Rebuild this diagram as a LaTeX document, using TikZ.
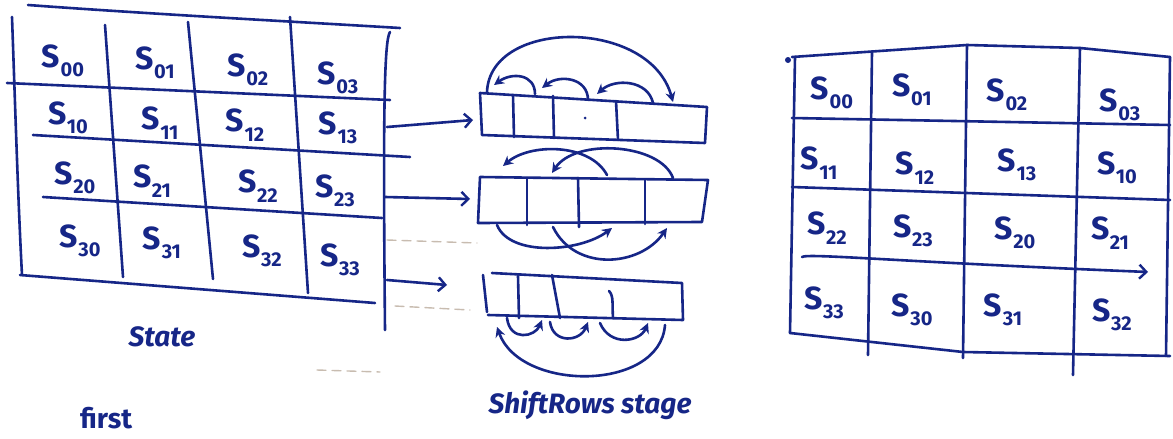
\documentclass[tikz,border=0pt]{standalone}
\usepackage{fontspec}
\setmainfont{Fira Sans}
\usetikzlibrary{arrows.meta}
\definecolor{ink}{RGB}{22,38,135}
\definecolor{ghost}{RGB}{200,188,176}
% state entry: large S with a lowered two-digit index
\newcommand\sij[1]{S\kern0.5pt\raisebox{-0.3em}{\fontsize{20}{20}\selectfont #1}}

\begin{document}
\begin{tikzpicture}[x=1pt,y=-1pt, line cap=round, line join=round,
  pen/.style={draw=ink, line width=2.6pt},
  lbl/.style={text=ink, font=\bfseries\fontsize{32}{32}\selectfont, inner sep=0pt},
  tip/.style={-{Stealth[length=10pt,width=10pt]}},
  barb/.style={-{Straight Barb[length=7pt,width=14pt,line width=2.4pt]}},
  faint/.style={draw=ghost, line width=1.4pt, dash pattern=on 9pt off 6pt}]

\clip (0,0) rectangle (1173,439);
\fill[white] (0,0) rectangle (1173,439);

% ---------------- input state (left) ----------------
\draw[pen] (28,5) .. controls (150,14) and (300,22) .. (400,28);
\draw[pen] (12,17) .. controls (15,100) and (18,200) .. (22,275);
\draw[pen] (20,275) -- (375,303);
\draw[pen] (390,32) .. controls (384,40) and (383,120) .. (385,330);
\draw[pen] (7,83) -- (390,100);
\draw[pen] (33,135) -- (410,157);
\draw[pen] (43,197) -- (382,218);
\draw[pen] (105,25) -- (123,277);
\draw[pen] (188,22) -- (213,279);
\draw[pen] (290,17) -- (308,293);

\node[lbl] (a00) at (63,61)  {\sij{00}};
\node[lbl] (a01) at (155,63) {\sij{01}};
\node[lbl] (a02) at (248,70) {\sij{02}};
\node[lbl] (a03) at (338,78) {\sij{03}};
\node[lbl] (a10) at (68,118) {\sij{10}};
\node[lbl] (a11) at (160,123) {\sij{11}};
\node[lbl] (a12) at (245,125) {\sij{12}};
\node[lbl] (a13) at (338,128) {\sij{13}};
\node[lbl] (a20) at (75,178) {\sij{20}};
\node[lbl] (a21) at (152,181) {\sij{21}};
\node[lbl] (a22) at (258,186) {\sij{22}};
\node[lbl] (a23) at (335,191) {\sij{23}};
\node[lbl] (a30) at (80,241) {\sij{30}};
\node[lbl] (a31) at (162,243) {\sij{31}};
\node[lbl] (a32) at (262,251) {\sij{32}};
\node[lbl] (a33) at (340,260) {\sij{33}};

\node[text=ink, font=\bfseries\itshape\fontsize{28}{28}\selectfont, inner sep=0pt] (state) at (162,337) {State};

% rows fed into the shifter
\coordinate (r1) at (387,127);
\coordinate (r2) at (385,197);
\coordinate (r3) at (387,280);
\coordinate (q1) at (473,120);
\coordinate (q2) at (470,199);
\coordinate (q3) at (447,285);
\draw[pen, barb] (r1) -- (q1);
\draw[pen, barb] (r2) -- (q2);
\draw[pen, barb] (r3) -- (q3);
\draw[faint] (387,240) -- (477,243);
\draw[faint] (395,306) -- (470,310);
\draw[faint] (317,370) -- (380,372);

% ---------------- row 1: shift by one ----------------
\draw[pen] (480,93) -- (707,107) -- (705,143) -- (482,135) -- cycle;
\draw[pen] (513,95) -- (514,137);
\draw[pen] (553,96) -- (554,138);
\draw[pen] (616,101) -- (618,140);
\fill[ink] (585,118) circle (1.5pt);
\coordinate (b0) at (494,85);
\coordinate (b1) at (535,94);
\coordinate (b1t) at (542,88);
\coordinate (b2) at (588,100);
\coordinate (b2t) at (597,94);
\coordinate (b3) at (653,103);
\coordinate (b0s) at (487,92);
\coordinate (b3t) at (673,102);
\draw[pen, tip] (b1) .. controls (535,74) and (512,72) .. (b0);
\draw[pen, tip] (b2) .. controls (588,78) and (560,74) .. (b1t);
\draw[pen, tip] (b3) .. controls (648,80) and (615,78) .. (b2t);
\draw[pen, tip] (b0s) .. controls (490,18) and (650,18) .. (b3t);

% ---------------- row 2: shift by two ----------------
\draw[pen] (480,177) -- (708,180) -- (702,222) -- (478,223) -- cycle;
\draw[pen] (527,178) -- (527,225);
\draw[pen] (578,178) -- (579,227);
\draw[pen] (645,180) -- (645,224);
\coordinate (c2) at (607,175);
\coordinate (c0t) at (503,166);
\coordinate (c3) at (673,178);
\coordinate (c1t) at (552,173);
\coordinate (c0) at (497,225);
\coordinate (c2t) at (612,228);
\coordinate (c1) at (553,227);
\coordinate (c3t) at (667,228);
\draw[pen, tip] (c2) .. controls (590,143) and (530,143) .. (c0t);
\draw[pen, tip] (c3) .. controls (660,143) and (575,138) .. (c1t);
\draw[pen, tip] (c0) .. controls (510,257) and (580,252) .. (c2t);
\draw[pen, tip] (c1) .. controls (575,272) and (640,267) .. (c3t);

% ---------------- row 3: shift by three ----------------
\draw[pen] (492,273) -- (682,283) -- (683,320) -- (488,315);
\draw[pen] (483,275) -- (487,312);
\draw[pen] (518,276) -- (519,318);
\draw[pen] (552,275) -- (560,318);
\draw[pen] (609,291) .. controls (614,296) and (612,305) .. (613,318);
\coordinate (d0) at (507,318);
\coordinate (d1t) at (542,320);
\coordinate (d1) at (550,322);
\coordinate (d2t) at (588,322);
\coordinate (d2) at (600,323);
\coordinate (d3t) at (648,323);
\coordinate (d3) at (665,325);
\coordinate (d0t) at (497,327);
\draw[pen, tip] (d0) .. controls (510,342) and (535,337) .. (d1t);
\draw[pen, tip] (d1) .. controls (553,344) and (580,342) .. (d2t);
\draw[pen, tip] (d2) .. controls (610,347) and (640,342) .. (d3t);
\draw[pen, tip] (d3) .. controls (660,392) and (520,392) .. (d0t);

\node[text=ink, font=\bfseries\itshape\fontsize{28}{28}\selectfont, inner sep=0pt] (cap) at (590,405) {ShiftRows stage};
\node[text=ink, font=\bfseries\fontsize{28}{28}\selectfont, inner sep=0pt, anchor=base west] (first) at (80,428) {first};

% ---------------- output state (right) ----------------
\draw[pen] (792,57) -- (967,45) -- (1080,48) -- (1170,57);
\draw[pen] (795,57) -- (790,333);
\draw[pen] (790,333) -- (963,352) -- (1170,356);
\draw[pen] (1170,57) -- (1166,356);
\draw[pen] (792,118) -- (1170,125);
\draw[pen] (792,187) -- (1170,200);
\draw[pen] (872,52) -- (868,355);
\draw[pen] (967,45) -- (963,358);
\draw[pen] (1080,48) -- (1073,375);
\fill[ink] (788,60) circle (3pt);
\coordinate (e0) at (802,257);
\coordinate (e1) at (1148,272);
\draw[pen, barb] (e0) .. controls (808,253) and (900,262) .. (e1);

\node[lbl] (b00) at (832,93)  {\sij{00}};
\node[lbl] (b01) at (912,90)  {\sij{01}};
\node[lbl] (b02) at (1007,95) {\sij{02}};
\node[lbl] (b03) at (1120,105) {\sij{03}};
\node[lbl] (b11) at (819,163) {\sij{11}};
\node[lbl] (b12) at (915,168) {\sij{12}};
\node[lbl] (b13) at (1017,165) {\sij{13}};
\node[lbl] (b10) at (1117,168) {\sij{10}};
\node[lbl] (b22) at (827,228) {\sij{22}};
\node[lbl] (b23) at (913,231) {\sij{23}};
\node[lbl] (b20) at (1015,233) {\sij{20}};
\node[lbl] (b21) at (1110,233) {\sij{21}};
\node[lbl] (b33) at (824,303) {\sij{33}};
\node[lbl] (b30) at (912,310) {\sij{30}};
\node[lbl] (b31) at (1003,310) {\sij{31}};
\node[lbl] (b32) at (1112,315) {\sij{32}};
\end{tikzpicture}
\end{document}
